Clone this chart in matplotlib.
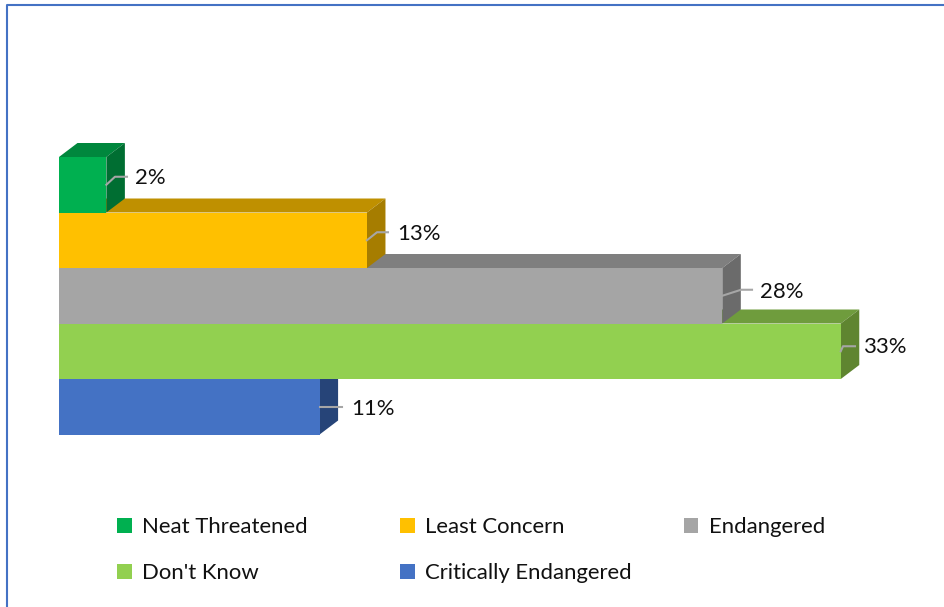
import matplotlib
matplotlib.use("Agg")
import matplotlib.pyplot as plt
from matplotlib.lines import Line2D
from matplotlib.patches import Patch, Polygon
from matplotlib.transforms import ScaledTranslation

# Survey shares, top bar first
categories = ["Neat Threatened", "Least Concern", "Endangered", "Don't Know", "Critically Endangered"]
shares = [2, 13, 28, 33, 11]
share_labels = ["2%", "13%", "28%", "33%", "11%"]

# Face colours of each extruded bar
front_colors = ["#00B050", "#FFC000", "#A5A5A5", "#92D050", "#4472C4"]
top_colors = ["#00873D", "#BF9000", "#7F7F7F", "#6F9C3D", "#2F5597"]
side_colors = ["#006E32", "#A67D00", "#6B6B6B", "#5F8530", "#264478"]

# Leader bend and end, then text anchor, in pixels from the mid-right of each front face
leader_bends = [(8.6, 8), (10, 8), (18.7, 6), (2.2, 5), (11, 0)]
leader_ends = [(20.6, 8), (21, 8), (29.7, 6), (14.2, 5), (22.4, 0)]
label_offsets = [(28.6, 7), (30, 6), (37.7, 4), (23.2, 4), (31.4, -2)]

W, H, DPI = 945, 607, 100
DEPTH_X, DEPTH_Y = 18.5, 14      # extrusion of the bars, pixels
PX_PER_UNIT = 23.69
LEFT, TOP, BOTTOM = 59, 157, 434.5
FONT_SIZE = 15.9

plt.rcParams["font.family"] = ["Lato", "DejaVu Sans"]
fig = plt.figure(figsize=(W / DPI, H / DPI), dpi=DPI, facecolor="white")

x_max = 35
ax = fig.add_axes([LEFT / W, 1 - BOTTOM / H, x_max * PX_PER_UNIT / W, (BOTTOM - TOP) / H])
ax.set_xlim(0, x_max)
ax.set_ylim(len(shares) - 0.5, -0.5)
ax.axis("off")

depth_shift = ax.transData + ScaledTranslation(DEPTH_X / DPI, DEPTH_Y / DPI, fig.dpi_scale_trans)

for i, (value, label) in enumerate(zip(shares, share_labels)):
    y_top, y_bot = i - 0.5, i + 0.5
    corners = [(0, y_top), (value, y_top), (value, y_bot)]
    back_points = depth_shift.transform(corners)
    front_points = ax.transData.transform(corners)
    # Stacking order: all top faces, then all side faces, then all front faces
    top_face = [front_points[0], back_points[0], back_points[1], front_points[1]]
    side_face = [front_points[1], back_points[1], back_points[2], front_points[2]]
    ax.add_patch(Polygon(top_face, closed=True, transform=None, facecolor=top_colors[i],
                         edgecolor="none", zorder=2 + i, clip_on=False))
    ax.add_patch(Polygon(side_face, closed=True, transform=None, facecolor=side_colors[i],
                         edgecolor="none", zorder=10 + i, clip_on=False))
    ax.barh(i, value, height=1, color=front_colors[i], edgecolor="none", zorder=20)

    # Leader line and value text
    start = ax.transData.transform((value, i))
    path = [start, start + leader_bends[i], start + leader_ends[i]]
    ax.add_line(Line2D([p[0] for p in path], [p[1] for p in path], transform=None,
                       color="#A6A6A6", lw=1.5, zorder=30, clip_on=False))
    ax.annotate(label, xy=(value, i), xycoords="data",
                xytext=(label_offsets[i][0] * 72 / DPI, label_offsets[i][1] * 72 / DPI),
                textcoords="offset points", ha="left", va="center",
                fontsize=FONT_SIZE, color="#111111", zorder=31)

# Three evenly spaced legend columns, filled row by row
font_px = FONT_SIZE * DPI / 72
columns = [[0, 3], [1, 4], [2]]
for c, members in enumerate(columns):
    handles = [Patch(facecolor=front_colors[m], edgecolor="none") for m in members]
    names = [categories[m] for m in members]
    x_pos = (117 + c * 283.5) / W
    leg = fig.legend(handles, names, loc="upper left", bbox_to_anchor=(x_pos, 1 - 517 / H),
                     frameon=False, fontsize=FONT_SIZE, ncol=1, borderpad=0, borderaxespad=0,
                     handlelength=14.5 / font_px, handleheight=14.5 / font_px,
                     handletextpad=10.5 / font_px, labelspacing=(45 - 0.85 * font_px) / font_px)
    for t in leg.get_texts():
        t.set_color("#111111")

# Chart-area frame along the top and left edges
frame_color = "#4472C4"
fig.add_artist(Line2D([7 / W, 7 / W, 1], [0, 1 - 5 / H, 1 - 5 / H],
                      transform=fig.transFigure, color=frame_color, lw=1.5))

fig.savefig("out.png", dpi=DPI)
